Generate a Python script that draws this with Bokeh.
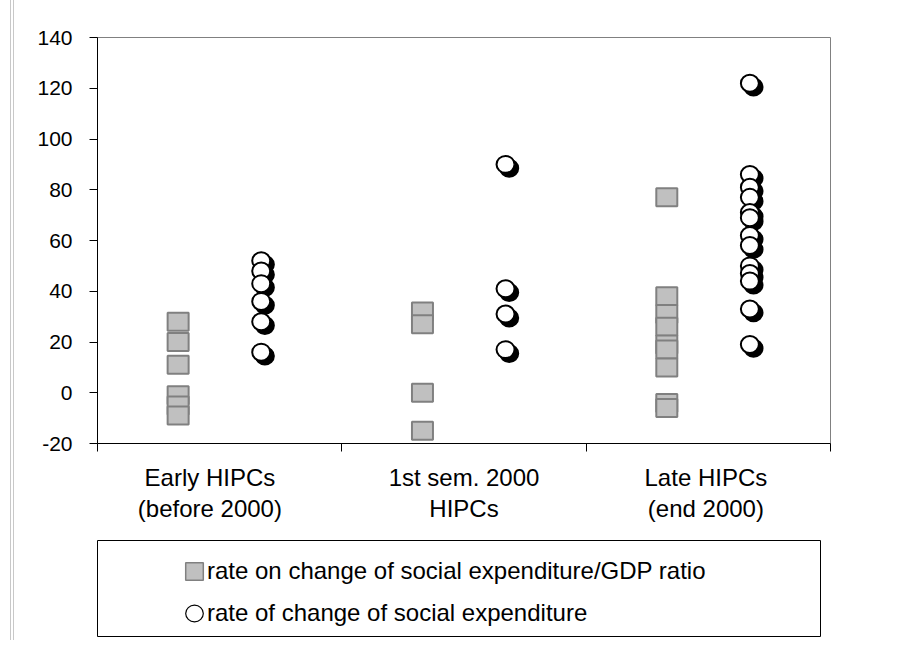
from bokeh.plotting import figure
from bokeh.layouts import column
from bokeh.models import Range1d, FixedTicker, ColumnDataSource, Legend, LegendItem
from bokeh.transform import dodge
from bokeh.embed import file_html
from bokeh.resources import INLINE

# ---- data ----
categories = ["Early HIPCs\n(before 2000)", "1st sem. 2000\nHIPCs", "Late HIPCs\n(end 2000)"]
early_ratio = [28, 20, 11, -1, -5, -9]
sem_ratio = [32, 27, 0, -15]
late_ratio = [77, 38, 31, 26, 19, 17, 10, -4, -6]
early_exp = [52, 48, 43, 36, 28, 16]
sem_exp = [90, 41, 31, 17]
late_exp = [122, 86, 81, 77, 71, 69, 62, 58, 50, 47, 44, 33, 19]
y_ticks = [-20, 0, 20, 40, 60, 80, 100, 120, 140]
series_names = ["rate on change of social expenditure/GDP ratio",
                "rate of change of social expenditure"]

FONT = "Liberation Sans"

def build(groups, offset):
    xs, ys = [], []
    for i, vals in enumerate(groups):
        xs += [i + 1 + offset] * len(vals)
        ys += vals
    return ColumnDataSource(dict(x=xs, y=ys))

sq_src = build([early_ratio, sem_ratio, late_ratio], -0.17)
ci_src = build([early_exp, sem_exp, late_exp], 0.17)

SQ_STYLE = dict(width=21, height=18, width_units="screen", height_units="screen",
                fill_color="#c0c0c0", line_color="#808080", line_width=2)
CI_STYLE = dict(width=18, height=17, width_units="screen", height_units="screen",
                fill_color="white", line_color="black", line_width=2)

p = figure(frame_width=733, frame_height=406,
           x_range=Range1d(0.5, 3.5), y_range=Range1d(-20, 140),
           output_backend="svg", toolbar_location=None,
           min_border_left=97, min_border_top=37, min_border_right=70, min_border_bottom=93,
           background_fill_color="white", border_fill_color=None,
           outline_line_color="#808080", outline_line_width=1)
p.xgrid.visible = False
p.ygrid.visible = False

# x axis: category labels, ticks at category boundaries
label_pos = [0.96, 2.0, 2.99]
xa = p.xaxis[0]
xa.ticker = FixedTicker(ticks=label_pos, minor_ticks=[0.5, 1.5, 2.5, 3.5])
xa.major_label_overrides = {label_pos[i]: categories[i] for i in range(3)}
xa.major_tick_line_color = None
xa.major_tick_out = 0
xa.major_tick_in = 0
xa.minor_tick_line_color = "black"
xa.minor_tick_out = 8
xa.minor_tick_in = 0
xa.axis_line_color = "black"
xa.major_label_standoff = 12
xa.major_label_text_font = FONT
xa.major_label_text_font_size = "24px"
xa.major_label_text_color = "black"
xa.major_label_text_line_height = 1.15

# y axis
ya = p.yaxis[0]
ya.ticker = FixedTicker(ticks=y_ticks, minor_ticks=[])
ya.major_label_overrides = {t: str(t) for t in y_ticks}
ya.major_tick_line_color = "black"
ya.major_tick_out = 8
ya.major_tick_in = 0
ya.minor_tick_line_color = None
ya.axis_line_color = "black"
ya.major_label_standoff = 17
ya.major_label_text_font = FONT
ya.major_label_text_font_size = "21px"
ya.major_label_text_color = "black"

# glyphs
p.rect(x="x", y="y", source=sq_src, **SQ_STYLE)
p.ellipse(x=dodge("x", 0.015), y=dodge("y", -1.5), width=18, height=17,
          width_units="screen", height_units="screen",
          fill_color="black", line_color="black", line_width=2, source=ci_src)
p.ellipse(x="x", y="y", source=ci_src, **CI_STYLE)

# ---- legend panel (boxed) ----
frame_h = 96
p2 = figure(frame_width=723, frame_height=frame_h,
            x_range=Range1d(0.5, 3.5), y_range=Range1d(200, 300),
            output_backend="svg", toolbar_location=None,
            x_axis_location=None, y_axis_location=None,
            min_border_left=97, min_border_right=80, min_border_top=4, min_border_bottom=4,
            background_fill_color="white", border_fill_color=None,
            outline_line_color="black", outline_line_width=1)
p2.xgrid.visible = False
p2.ygrid.visible = False
leg_sq = p2.rect(x="x", y="y", source=sq_src, **dict(SQ_STYLE, line_width=1.5))
leg_ci = p2.ellipse(x="x", y="y", source=ci_src, **dict(CI_STYLE, line_width=1.2))

row_h = 27.5
spacing = 14
leg_h = 2 * row_h + spacing
top_gap = 31.5 - row_h / 2
legend = Legend(items=[LegendItem(label=series_names[0], renderers=[leg_sq]),
                       LegendItem(label=series_names[1], renderers=[leg_ci])],
                location=(86, frame_h - top_gap - leg_h),
                orientation="vertical", padding=0, margin=0, spacing=spacing,
                glyph_width=22, glyph_height=22, label_height=22, label_standoff=2,
                border_line_color=None, background_fill_alpha=0,
                label_text_font=FONT, label_text_font_size="24px", label_text_color="black")
p2.add_layout(legend)

page_rule = ("linear-gradient(to right, transparent 10px, #c8c8c8 10px, #c8c8c8 11px, "
             "transparent 11px, transparent 13px, #c8c8c8 13px, #c8c8c8 14px, transparent 14px)")
layout = column(p, p2, spacing=0, styles={"background": page_rule})
open("out.html", "w").write(file_html(layout, INLINE))
